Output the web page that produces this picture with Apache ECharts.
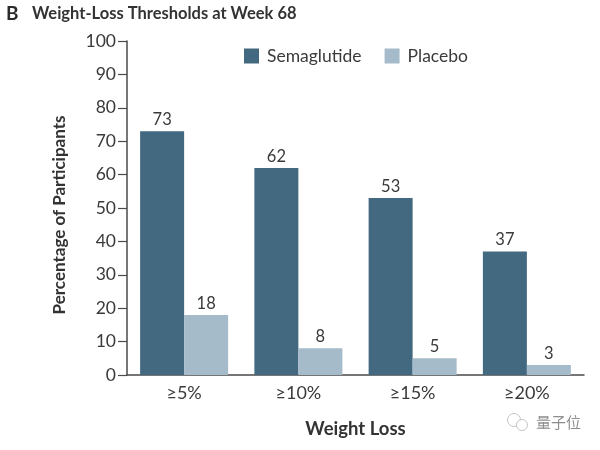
<!DOCTYPE html>
<html>
<head>
<meta charset="utf-8">
<style>
  html, body { margin: 0; padding: 0; background: #fff; }
  #chart { width: 600px; height: 450px; }
</style>
<script src="https://cdn.jsdelivr.net/npm/echarts@6/dist/echarts.min.js"></script>
</head>
<body>
<div id="chart"></div>
<script>
var categories = ['≥5%', '≥10%', '≥15%', '≥20%'];
var semaglutide = [73, 62, 53, 37];
var placebo = [18, 8, 5, 3];
var yTicks = [0, 10, 20, 30, 40, 50, 60, 70, 80, 90, 100];

var fontName = 'Lato';
var inkColor = '#3a3a3a';
var axisColor = '#4a4a4a';

var chart = echarts.init(document.getElementById('chart'));

function barLabel() {
    return { show: true, position: 'top', distance: 3, color: inkColor, fontFamily: fontName, fontSize: 16.5 };
}

chart.setOption({
    animation: false,
    textStyle: { fontFamily: fontName },
    title: [
        { text: 'B', left: 1, top: -1, textStyle: { fontSize: 19, fontWeight: 'bold', color: '#2b2b2b', fontFamily: fontName } },
        { text: 'Weight-Loss Thresholds at Week 68', left: 27, top: 0, textStyle: { fontSize: 16.5, fontWeight: 'bold', color: '#333', fontFamily: fontName } }
    ],
    legend: {
        left: 239,
        top: 42,
        itemWidth: 15,
        itemHeight: 15,
        itemGap: 23,
        icon: 'rect',
        textStyle: { fontSize: 17.5, color: inkColor, fontFamily: fontName, padding: [0, 0, 0, 3] },
        data: ['Semaglutide', 'Placebo']
    },
    grid: { left: 127, right: 16, top: 41, bottom: 75 },
    xAxis: {
        type: 'category',
        data: categories,
        name: 'Weight Loss',
        nameLocation: 'middle',
        nameGap: 45,
        nameTextStyle: { fontSize: 18.5, fontWeight: 'bold', color: '#333', fontFamily: fontName },
        axisTick: { show: false },
        axisLine: { lineStyle: { color: axisColor, width: 1.5 } },
        axisLabel: { color: inkColor, fontSize: 18, margin: 9, fontFamily: fontName }
    },
    yAxis: {
        type: 'value',
        min: 0,
        max: 100,
        interval: 10,
        name: 'Percentage of Participants',
        nameLocation: 'middle',
        nameGap: 59,
        nameTextStyle: { fontSize: 17, fontWeight: 'bold', color: '#333', fontFamily: fontName, padding: [0, 14, 0, 0] },
        splitLine: { show: false },
        axisLine: { show: true, onZero: false, lineStyle: { color: axisColor, width: 1.5 } },
        axisTick: { show: true, length: 9, lineStyle: { color: axisColor, width: 1.2 } },
        axisLabel: {
            color: inkColor, fontSize: 17.5, margin: 11, fontFamily: fontName,
            customValues: yTicks
        }
    },
    series: [
        {
            name: 'Semaglutide',
            type: 'bar',
            data: semaglutide,
            barWidth: 44,
            barGap: 0,
            itemStyle: { color: '#42697f' },
            label: barLabel()
        },
        {
            name: 'Placebo',
            type: 'bar',
            data: placebo,
            barWidth: 44,
            itemStyle: { color: '#a5bbca' },
            label: barLabel()
        }
    ],
    graphic: [
        { type: 'circle', shape: { cx: 514, cy: 420, r: 6.5 }, style: { fill: '#fff', stroke: '#c4c4c4', lineWidth: 1 } },
        { type: 'circle', shape: { cx: 522, cy: 425, r: 5.5 }, style: { fill: '#fff', stroke: '#c4c4c4', lineWidth: 1 } },
        { type: 'text', left: 536, top: 415, style: { text: '量子位', fill: '#8e8e8e', font: '15px "Noto Sans CJK SC"' } }
    ]
});
</script>
</body>
</html>
